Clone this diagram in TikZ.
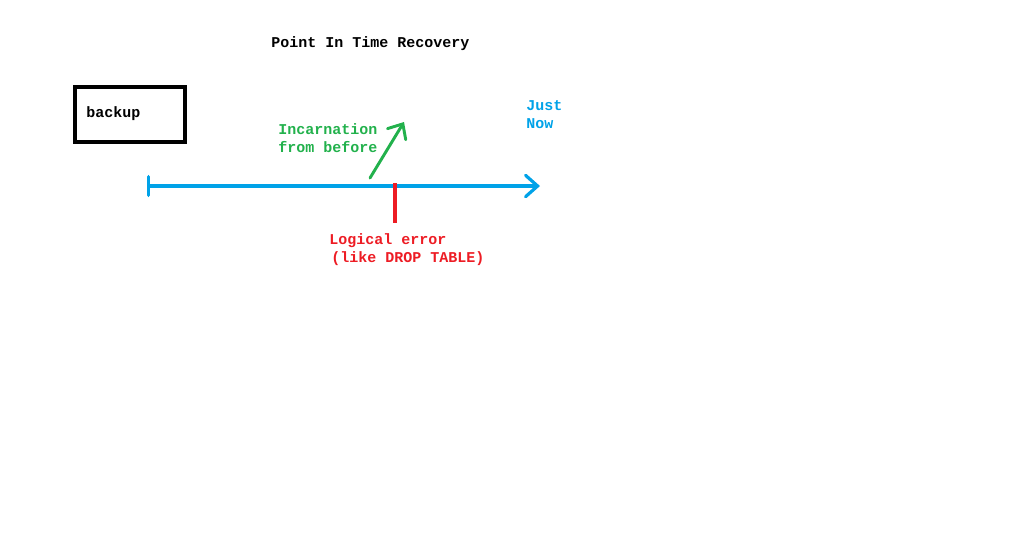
\documentclass[tikz,border=0pt]{standalone}
\usepackage{fontspec}
\setmonofont{Liberation Mono}
\usepackage{tikz}
\usetikzlibrary{arrows.meta,positioning}
\usepackage{xcolor}
\definecolor{paintblue}{HTML}{00A2E8}
\definecolor{paintred}{HTML}{ED1C24}
\definecolor{paintgreen}{HTML}{22B14C}

\begin{document}
\begin{tikzpicture}[x=0.75pt,y=-0.75pt,
    lbl/.style={inner sep=0pt,anchor=west,align=left,font=\fontsize{11.25}{13.5}\selectfont\ttfamily\bfseries},
    box/.style={draw=black,line width=2.4pt,minimum width=82.5pt,minimum height=41.25pt,inner sep=0pt},
    arr/.style={line width=2.2pt,line cap=round,-{Straight Barb[length=9pt,width=16pt,line cap=round]}},
    axis/.style={line width=2.4pt,line cap=round,{Bar[width=14pt,line width=2.6pt,line cap=round]}-{Straight Barb[length=9pt,width=16pt,line cap=round]}}
]
\useasboundingbox (0,0) rectangle (1024,544);
\node[lbl] (title) at (271,44) {Point In Time Recovery};
\node[box] (backup) at (130,114.5) {};
\node[lbl] (bkp) at (86,114) {backup};

\coordinate (start) at (147,186);
\coordinate (now) at (540,186);
\draw[axis,paintblue] (start) -- (now);
\node[lbl,paintblue] (justnow) at (526,114.5) {Just\\Now};

\coordinate (errtop) at (395,183);
\coordinate (errbot) at (395,223);
\draw[paintred,line width=2.4pt] (errtop) -- (errbot);
\node[lbl,paintred] (logerr) at (329,249.5) {Logical error\\\hspace{1.5pt}(like DROP TABLE)};

\coordinate (inc0) at (370,178);
\coordinate (inc1) at (404,122);
\draw[arr,paintgreen] (inc0) -- (inc1);
\node[lbl,paintgreen] (incarn) at (278,138.5) {Incarnation\\from before};
\end{tikzpicture}
\end{document}
